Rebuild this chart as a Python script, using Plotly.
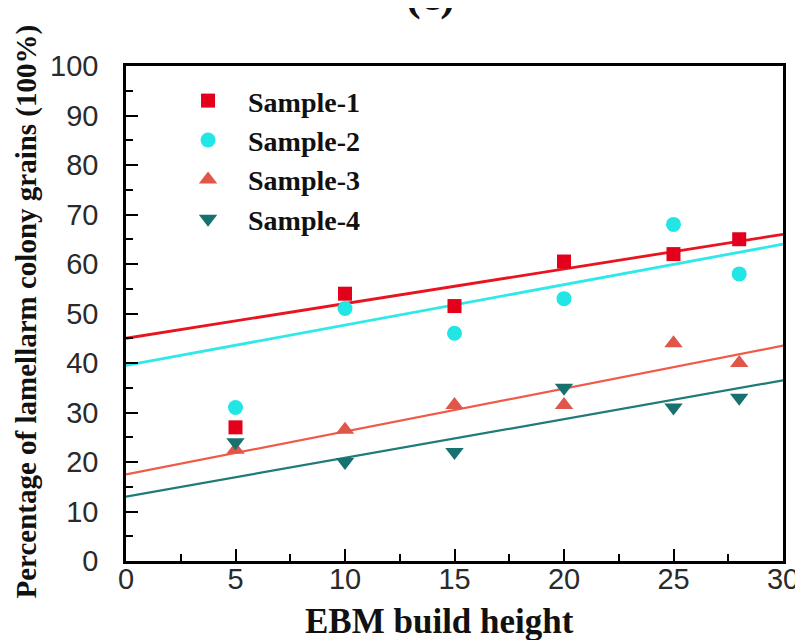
import plotly.graph_objects as go

x_height = [5, 10, 15, 20, 25, 28]
sample1 = [27, 54, 51.5, 60.5, 62, 65]
sample2 = [31, 51, 46, 53, 68, 58]
sample3 = [22.5, 26.5, 31.5, 31.5, 44, 40]
sample4 = [24, 20, 22, 35, 31, 33]

fit_x = [0, 30]
fit1 = [45, 66]
fit2 = [39.5, 64]
fit3 = [17.5, 43.5]
fit4 = [13, 36.5]

names = ["Sample-1", "Sample-2", "Sample-3", "Sample-4"]
series = [sample1, sample2, sample3, sample4]
fits = [fit1, fit2, fit3, fit4]
marker_colors = ["#E3001B", "#22E5E5", "#E0574A", "#17716F"]
line_colors = ["#E8141F", "#2FE8E8", "#F05A48", "#1E7B78"]
symbols = ["square", "circle", "triangle-up", "triangle-down"]
sizes = [14, 15, 16, 16]

fig = go.Figure()
for i in range(4):
    fig.add_trace(go.Scatter(
        x=fit_x, y=fits[i], mode="lines",
        line=dict(color=line_colors[i], width=2.8 if i < 2 else 2.2),
        showlegend=False, hoverinfo="skip"))
for i in range(4):
    fig.add_trace(go.Scatter(
        x=x_height, y=series[i], mode="markers", name=names[i],
        marker=dict(symbol=symbols[i], size=sizes[i], color=marker_colors[i],
                    line=dict(width=0))))

axis_common = dict(
    showline=True, linecolor="black", linewidth=2.5, mirror=True,
    ticks="inside", ticklen=12, tickwidth=2, tickcolor="black",
    showgrid=False, zeroline=False,
    tickfont=dict(family="Liberation Sans, Arial", size=29, color="#2a2a2a"),
)

fig.update_xaxes(range=[0, 30], dtick=5, tick0=0, ticklabelstandoff=-10,
                 minor=dict(ticks="inside", ticklen=7, tickwidth=2, tickcolor="black", dtick=2.5),
                 **axis_common)
fig.update_yaxes(range=[0, 100], dtick=10, tick0=0, ticklabelstandoff=19,
                 minor=dict(ticks="inside", ticklen=7, tickwidth=2, tickcolor="black", dtick=5),
                 **axis_common)

serif = "Liberation Serif, Times New Roman"
fig.update_layout(
    width=803, height=640,
    margin=dict(l=118, r=20, t=58, b=87),
    paper_bgcolor="white", plot_bgcolor="white",
    legend=dict(x=0.064, y=0.98, xanchor="left", yanchor="top",
                bgcolor="rgba(0,0,0,0)", traceorder="normal",
                font=dict(family=serif, size=28, color="#111", weight="bold"),
                itemwidth=70),
    annotations=[
        dict(text="<b>(c)</b>", x=0.5, y=1.0, xref="paper", yref="paper",
             yanchor="bottom", yshift=44, xshift=-24, showarrow=False,
             font=dict(family=serif, size=44, color="#111")),
        dict(text="<b>EBM build height</b>", x=0.5, y=0, xref="paper", yref="paper",
             xanchor="center", yanchor="middle", yshift=-60, xshift=-15, showarrow=False,
             font=dict(family=serif, size=35, color="#111")),
        dict(text="<b>Percentage of lamellarm colony grains (100%)</b>", x=0, y=0.5,
             xref="paper", yref="paper", xanchor="center", yanchor="middle",
             xshift=-100, yshift=2, textangle=-90, showarrow=False,
             font=dict(family=serif, size=29, color="#111")),
    ],
)

fig.write_html("out.html")
